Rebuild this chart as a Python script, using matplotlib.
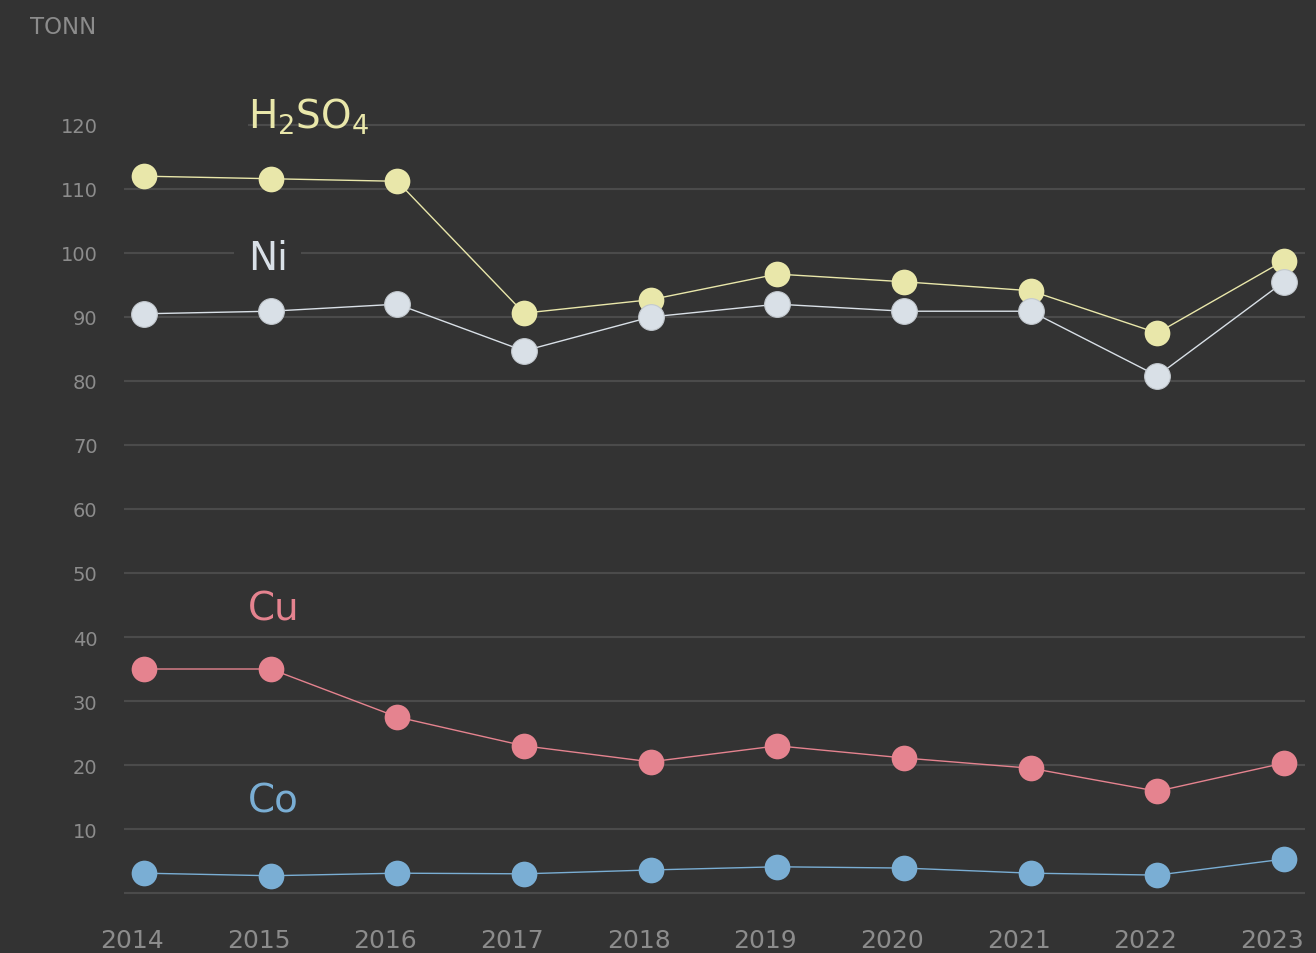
import matplotlib
matplotlib.use("Agg")
import matplotlib.pyplot as plt
import matplotlib.transforms as mtransforms

years = [2014, 2015, 2016, 2017, 2018, 2019, 2020, 2021, 2022, 2023]
h2so4 = [112.0, 111.6, 111.2, 90.6, 92.7, 96.7, 95.5, 94.1, 87.5, 98.8]
ni = [90.5, 90.9, 92.0, 84.7, 90.0, 92.0, 90.9, 90.9, 80.8, 95.5]
cu = [35.0, 35.0, 27.5, 23.0, 20.5, 23.0, 21.1, 19.5, 15.9, 20.3]
co = [3.1, 2.7, 3.1, 3.0, 3.6, 4.1, 3.9, 3.1, 2.8, 5.3]
yticks = [10, 20, 30, 40, 50, 60, 70, 80, 90, 100, 110, 120]
unit_label = "TONN"

BG = "#333333"
GRID = "#4b4b4b"
TXT = "#8c8c8c"
series = [
    ("H$_2$SO$_4$", h2so4, "#e9e7aa", None, 119.6),
    ("Ni", ni, "#d9e0e7", "#c3c9cf", 97.5),
    ("Cu", cu, "#e5838f", None, 42.8),
    ("Co", co, "#7aaed4", None, 12.8),
]

plt.rcParams['font.family'] = ['DejaVu Sans']
plt.rcParams['mathtext.fontset'] = 'dejavusans'
plt.rcParams['mathtext.default'] = 'regular'
fig = plt.figure(figsize=(13.16, 9.54), dpi=100, facecolor=BG)
ax = fig.add_axes([0.0942, 0.0461, 0.8974, 0.8491], facecolor=BG)
ax.set_xlim(2013.842, 2023.166)
ax.set_ylim(-2.5, 124.06)

label_x = 2014.82
for v in [0] + yticks:
    start = label_x if v == 120 else 2013.842
    ax.hlines(v, start, 2023.166, color=GRID, lw=1.5, zorder=1)

for name, vals, col, edge, ly in series:
    ax.plot(years, vals, color=col, lw=1.0, zorder=3,
            marker='o', markersize=18.5, markerfacecolor=col,
            markeredgecolor=edge if edge else col, markeredgewidth=0.8 if edge else 0)
    kw = {}
    if name == "Ni":
        kw['bbox'] = dict(boxstyle='square,pad=0.35', facecolor=BG, edgecolor='none')
    ax.text(label_x, ly, name, color=col, fontsize=28, va='baseline', ha='left',
            zorder=2, **kw)

ax.set_yticks(yticks)
ax.set_yticklabels([str(v) for v in yticks])
ax.set_xticks(years)
ax.set_xticklabels([str(y) for y in years])
ax.tick_params(axis='y', length=0, pad=19, labelsize=14, labelcolor=TXT)
ax.tick_params(axis='x', length=0, pad=14, labelsize=18, labelcolor=TXT)
offset = mtransforms.ScaledTranslation(-12 / 100, 0, fig.dpi_scale_trans)
for lab in ax.get_xticklabels():
    lab.set_transform(lab.get_transform() + offset)
for s in ax.spines.values():
    s.set_visible(False)
ax.grid(False)

fig.text(30 / 1316, 1 - 27 / 954, unit_label, color=TXT, fontsize=16.5,
         ha='left', va='center')

fig.savefig("out.png", dpi=100, facecolor=BG)
